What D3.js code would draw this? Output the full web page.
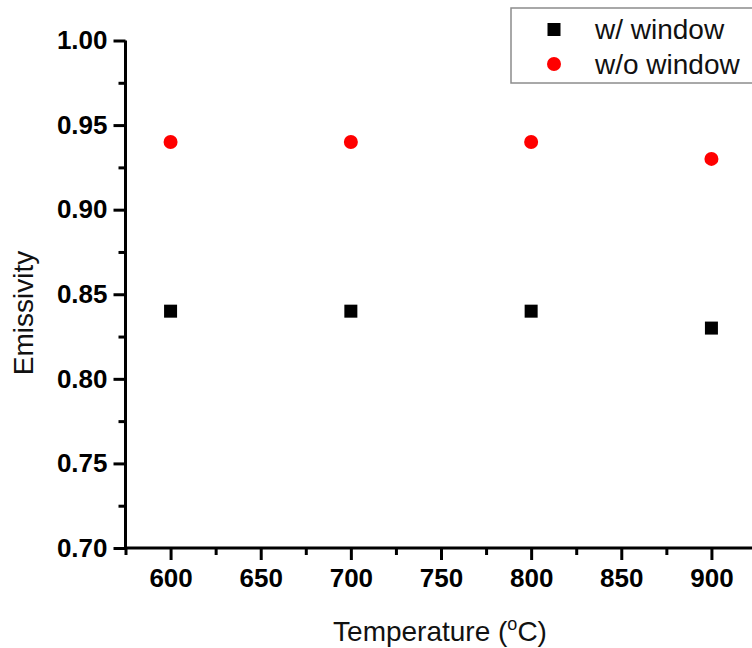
<!DOCTYPE html>
<html>
<head>
<meta charset="utf-8">
<script src="https://cdn.jsdelivr.net/npm/d3@7"></script>
<style>
  html, body { margin: 0; padding: 0; background: #fff; }
  svg { display: block; font-family: "Liberation Sans", Arial, sans-serif; }
</style>
</head>
<body>
<svg id="chart" width="752" height="648"></svg>
<script>
// Measured emissivity vs. temperature
const temperatures = [600, 700, 800, 900];
const withWindow = [0.84, 0.84, 0.84, 0.83];
const withoutWindow = [0.94, 0.94, 0.94, 0.93];
const seriesNames = ["w/ window", "w/o window"];
const xMajorTicks = [600, 650, 700, 750, 800, 850, 900];
const xMinorTicks = [575, 625, 675, 725, 775, 825, 875, 925];
const yMajorTicks = [0.70, 0.75, 0.80, 0.85, 0.90, 0.95, 1.00];
const yMinorTicks = [0.725, 0.775, 0.825, 0.875, 0.925, 0.975];

const svg = d3.select("#chart");

const x = d3.scaleLinear().domain([575, 925]).range([125.5, 756.5]);
const y = d3.scaleLinear().domain([0.70, 1.00]).range([548, 40.5]);

const axisStroke = 3;

// Y axis: major + minor ticks
const yAxisG = svg.append("g").attr("transform", `translate(${x(575)},0)`);
yAxisG.call(d3.axisLeft(y).tickValues(yMajorTicks).tickSize(12).tickPadding(6)
  .tickFormat(d3.format(".2f")));
yAxisG.append("g").call(d3.axisLeft(y).tickValues(yMinorTicks).tickSize(7).tickFormat(""))
  .select(".domain").remove();

// X axis: major + minor ticks
const xAxisG = svg.append("g").attr("transform", `translate(0,${y(0.70)})`);
xAxisG.call(d3.axisBottom(x).tickValues(xMajorTicks).tickSize(12).tickPadding(9)
  .tickFormat(d3.format("d")));
xAxisG.append("g").call(d3.axisBottom(x).tickValues(xMinorTicks).tickSize(7).tickFormat(""))
  .select(".domain").remove();

svg.selectAll(".domain").attr("stroke", "#000").attr("stroke-width", axisStroke);
svg.selectAll(".tick line").attr("stroke", "#000").attr("stroke-width", axisStroke);
svg.selectAll(".tick text")
  .attr("fill", "#000")
  .style("font-size", "26px")
  .style("font-weight", "bold")
  .style("font-family", "'Liberation Sans', Arial, sans-serif");
// Draw domain lines without the outer end ticks
yAxisG.select(".domain").attr("d", `M0,${y(1.00)}V${y(0.70)}`);
xAxisG.select(".domain").attr("d", `M${x(575) - 1.5},0H${x(925)}`);

// Axis titles
svg.append("text")
  .attr("transform", `translate(33,313) rotate(-90)`)
  .attr("text-anchor", "middle")
  .style("font-size", "28px")
  .attr("fill", "#111")
  .text("Emissivity");

const xTitle = svg.append("text")
  .attr("x", 440)
  .attr("y", 641)
  .attr("text-anchor", "middle")
  .style("font-size", "28px")
  .attr("fill", "#111");
xTitle.append("tspan").text("Temperature (");
xTitle.append("tspan").attr("dy", -11).style("font-size", "18px").text("o");
xTitle.append("tspan").attr("dy", 11).text("C)");

// Data markers
const squareSize = 13;
svg.append("g").selectAll("rect")
  .data(temperatures.map((t, i) => ({ t, v: withWindow[i] })))
  .join("rect")
  .attr("x", d => x(d.t) - squareSize / 2)
  .attr("y", d => y(d.v) - squareSize / 2)
  .attr("width", squareSize)
  .attr("height", squareSize)
  .attr("fill", "#000");

svg.append("g").selectAll("circle")
  .data(temperatures.map((t, i) => ({ t, v: withoutWindow[i] })))
  .join("circle")
  .attr("cx", d => x(d.t))
  .attr("cy", d => y(d.v))
  .attr("r", 7)
  .attr("fill", "#ff0000");

// Legend
const legend = svg.append("g");
legend.append("rect")
  .attr("x", 511).attr("y", 8)
  .attr("width", 260).attr("height", 75)
  .attr("fill", "#fff")
  .attr("stroke", "#8c8c8c")
  .attr("stroke-width", 1.5);
legend.append("rect")
  .attr("x", 554 - squareSize / 2).attr("y", 29.5 - squareSize / 2)
  .attr("width", squareSize).attr("height", squareSize)
  .attr("fill", "#000");
legend.append("circle")
  .attr("cx", 554).attr("cy", 64).attr("r", 7)
  .attr("fill", "#ff0000");
legend.selectAll("text.lbl")
  .data(seriesNames)
  .join("text")
  .attr("class", "lbl")
  .attr("x", 595)
  .attr("y", (d, i) => 39 + i * 34.5)
  .style("font-size", "28px")
  .attr("fill", "#111")
  .text(d => d);
</script>
</body>
</html>
